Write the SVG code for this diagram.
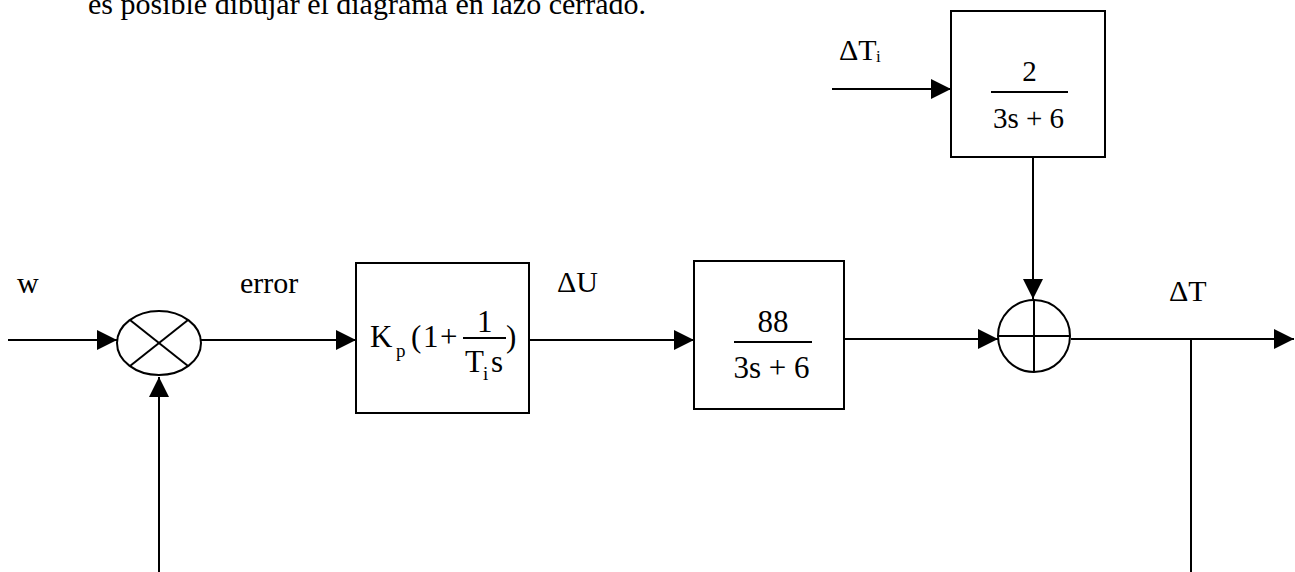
<svg xmlns="http://www.w3.org/2000/svg" width="1295" height="572" viewBox="0 0 1295 572">
<style>
text{font-family:"Liberation Serif","Times New Roman",serif;fill:#000}
.lbl{font-size:30px}
.m{font-size:31px}
.sub{font-size:19px}
.box{fill:#fff;stroke:#000;stroke-width:2}
.ln{stroke:#000;stroke-width:2;fill:none}
.con{stroke:#000;stroke-width:2;fill:none}
.arr{marker-end:url(#ah)}
</style>
<defs>
<marker id="ah" markerUnits="userSpaceOnUse" markerWidth="20" markerHeight="20" viewBox="0 0 20 20" refX="20" refY="10" orient="auto">
<path d="M0,0 L20,10 L0,20 Z" fill="#000"/>
</marker>
</defs>
<text x="88" y="14" style="font-size:30px">es posible dibujar el diagrama en lazo cerrado.</text>

<g id="connectors">
<line class="con arr" x1="8" y1="340" x2="117" y2="340"/>
<line class="con arr" x1="201" y1="340" x2="356" y2="340"/>
<line class="con arr" x1="529" y1="340" x2="694" y2="340"/>
<line class="con arr" x1="844" y1="339" x2="998" y2="339"/>
<line class="con arr" x1="832" y1="89" x2="951" y2="89"/>
<line class="con arr" x1="1033" y1="157" x2="1033" y2="299"/>
<line class="con arr" x1="1071" y1="339" x2="1294" y2="339"/>
<line class="con" x1="1191" y1="339" x2="1191" y2="572"/>
<line class="con arr" x1="159" y1="572" x2="159" y2="377"/>
</g>

<g id="labels">
<text class="lbl" x="17" y="293">w</text>
<text class="lbl" x="240" y="293">error</text>
<text class="lbl" x="557" y="292">ΔU</text>
<text class="lbl" x="1169" y="301">ΔT</text>
<text class="lbl" x="839" y="60">ΔT</text>
<text x="876" y="62" style="font-size:17px">i</text>
</g>

<g id="comparator">
<ellipse class="ln" cx="159" cy="343" rx="42" ry="32"/>
<line class="ln" x1="130" y1="320" x2="188" y2="366"/>
<line class="ln" x1="188" y1="320" x2="130" y2="366"/>
</g>

<g id="controller">
<rect class="box" x="356" y="263" width="173" height="150"/>
<text class="m" x="370" y="347">K</text>
<text class="sub" x="396" y="357">p</text>
<text class="m" x="411" y="347">(</text>
<text class="m" x="423" y="347">1</text>
<text class="m" x="440" y="347">+</text>
<line class="ln" x1="463" y1="338" x2="506" y2="338"/>
<text class="m" x="477" y="332">1</text>
<text class="m" x="465" y="372">T</text>
<text class="sub" x="483" y="380">i</text>
<text class="m" x="491" y="372">s</text>
<text class="m" x="506" y="347">)</text>
</g>

<g id="plant">
<rect class="box" x="694" y="261" width="150" height="148"/>
<text x="773" y="332" text-anchor="middle" style="font-size:31px">88</text>
<line class="ln" x1="734" y1="342" x2="812" y2="342"/>
<text x="771.5" y="378" text-anchor="middle" style="font-size:31px">3s + 6</text>
</g>

<g id="disturbance">
<rect class="box" x="951" y="11" width="154" height="146"/>
<text x="1029.5" y="81" text-anchor="middle" style="font-size:29px">2</text>
<line class="ln" x1="991" y1="92" x2="1068" y2="92"/>
<text x="1028.5" y="128" text-anchor="middle" style="font-size:29px">3s + 6</text>
</g>

<g id="sum">
<circle class="ln" cx="1034" cy="336" r="36"/>
<line class="ln" x1="998" y1="336" x2="1070" y2="336"/>
<line class="ln" x1="1034" y1="300" x2="1034" y2="372"/>
</g>
</svg>
